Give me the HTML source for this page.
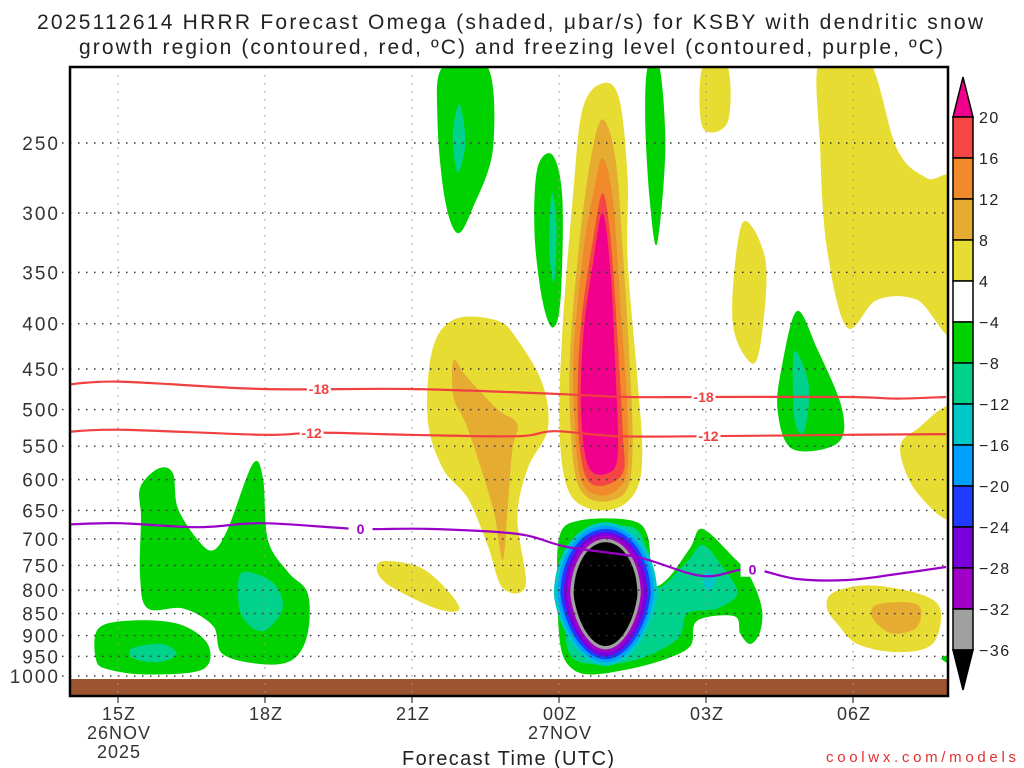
<!DOCTYPE html>
<html><head><meta charset="utf-8"><title>HRRR Omega KSBY</title>
<style>
html,body{margin:0;padding:0;background:#fff;}
svg{display:block;font-family:"Liberation Sans","DejaVu Sans",sans-serif;}
</style></head>
<body>
<svg id="chart" width="1024" height="768" viewBox="0 0 1024 768" xmlns="http://www.w3.org/2000/svg">
<text x="510" y="29" text-anchor="middle" font-size="21" fill="#222" textLength="946" lengthAdjust="spacing">2025112614 HRRR Forecast Omega (shaded, μbar/s) for KSBY with dendritic snow</text>
<text x="511" y="54" text-anchor="middle" font-size="21" fill="#222" textLength="864" lengthAdjust="spacing">growth region (contoured, red, ºC) and freezing level (contoured, purple, ºC)</text>
<defs><clipPath id="plotclip"><rect x="70" y="67" width="878" height="629"/></clipPath></defs>
<g id="fills" clip-path="url(#plotclip)"></g>
<g id="grid"></g>
<g id="lines" clip-path="url(#plotclip)"></g>
<g id="axes"></g>
<g id="cbar"></g>
<text x="508" y="765" text-anchor="middle" font-size="20" fill="#222" textLength="212" lengthAdjust="spacing">Forecast Time (UTC)</text>
<text x="1016" y="762" text-anchor="end" font-size="15" fill="#e03030" textLength="190" lengthAdjust="spacing">coolwx.com/models</text>
</svg>
<script>
// ---- data ----
const pressureTicks=[250,300,350,400,450,500,550,600,650,700,750,800,850,900,950,1000];
const timeTickHours=[0,3,6,9,12,15];
const timeTickLabels=[["15Z","26NOV","2025"],["18Z"],["21Z"],["00Z","27NOV"],["03Z"],["06Z"]];
const cbarLevels=[20,16,12,8,4,-4,-8,-12,-16,-20,-24,-28,-32,-36];
const cbarColors=["#f54545","#f08a2a","#e6ac32","#e6dc32","#ffffff","#00d200","#00d28c","#00c8c8","#00a0ff","#1e3cff","#7800dc","#a000c8","#a0a0a0"];
// isotherms: hours since 15Z, pressure hPa
const isoM18H=[-1.2,0,2.96,5.95,8.91,10.4,11.93,14.9,15.9,16.9];
const isoM18P=[470,465,474,474,480,484,484,484,486,484];
const isoM12H=[-1.2,0,2.96,4.08,5.95,8.15,8.91,10.19,11.93,14.9,16.9];
const isoM12P=[531,527,534,531,534,536,529,536,536,534,533];
const iso0H=[-1.2,0,1.63,2.96,4.89,6.32,8.15,9.17,10.6,11.93,12.88,13.86,14.9,15.9,16.9];
const iso0P=[675,672,679,672,682,682,691,715,734,771,757,777,779,767,753];
// omega regions [hour,pressure] polygons with value class
const regions=[
 ["#00d200",[[6.63,205],[7.54,205],[7.65,254],[7.24,296],[6.93,316],[6.67,289],[6.52,236]]],
 ["#00d28c",[[6.97,226],[7.09,250],[6.93,270],[6.83,245]]],
 ["#00d200",[[8.56,267],[8.87,258],[9.07,289],[9.03,376],[8.87,404],[8.66,376],[8.5,316]]],
 ["#00d28c",[[8.85,285],[8.95,310],[8.9,360],[8.8,330]]],
 ["#00d200",[[10.81,205],[11.05,205],[11.17,254],[11.0,325],[10.85,289],[10.76,236]]],
 ["#e6dc32",[[11.93,205],[12.44,205],[12.44,237],[11.93,240]]],
 ["#e6dc32",[[12.74,308],[13.21,338],[13.15,407],[12.95,444],[12.54,397]]],
 ["#e6dc32",[[14.33,200],[15.29,200],[15.9,254],[16.51,274],[17.1,280],[17.1,410],[16.31,376],[15.49,376],[14.88,404],[14.47,329],[14.33,254]]],
 ["#e6dc32",[[9.89,214],[10.23,223],[10.4,274],[10.4,338],[10.6,461],[10.7,554],[10.6,613],[10.19,646],[9.58,646],[9.17,613],[9.01,526],[9.07,407],[9.28,289],[9.48,229]]],
 ["#e6ac32",[[9.89,235],[10.15,260],[10.3,330],[10.45,450],[10.5,560],[10.35,620],[9.8,635],[9.4,610],[9.25,540],[9.22,440],[9.4,330],[9.65,260]]],
 ["#f08a2a",[[9.89,260],[10.1,290],[10.25,380],[10.38,480],[10.4,580],[10.2,615],[9.8,625],[9.45,600],[9.32,520],[9.3,430],[9.5,330],[9.7,285]]],
 ["#f54545",[[9.89,285],[10.05,320],[10.2,420],[10.3,530],[10.3,590],[9.8,610],[9.5,585],[9.38,500],[9.45,400],[9.7,320]]],
 ["#f0008c",[[9.89,300],[10.05,350],[10.15,450],[10.2,560],[10.0,590],[9.6,580],[9.45,500],[9.5,410],[9.7,340]]],
 ["#e6dc32",[[6.89,395],[7.75,397],[8.15,417],[8.66,467],[8.77,526],[8.36,583],[8.15,663],[8.32,790],[7.85,795],[7.54,711],[7.14,630],[6.63,583],[6.32,513],[6.42,427]]],
 ["#e6ac32",[[6.85,440],[7.14,461],[7.75,500],[8.15,519],[8.05,554],[7.95,646],[7.85,740],[7.65,646],[7.14,526],[6.85,485]]],
 ["#e6dc32",[[5.4,742],[6.12,752],[6.63,790],[6.97,840],[6.52,840],[5.61,795],[5.3,765]]],
 ["#e6dc32",[[14.58,806],[15.29,790],[16.31,806],[16.78,840],[16.62,920],[15.9,940],[15.09,920],[14.68,873],[14.47,839]]],
 ["#e6ac32",[[15.5,830],[16.31,830],[16.31,880],[15.8,895],[15.4,860]]],
 ["#e6dc32",[[17.1,500],[17.1,660],[16.31,621],[15.96,554],[16.31,526]]],
 ["#00d200",[[13.86,387],[14.27,427],[14.78,500],[14.68,546],[13.76,554],[13.46,500],[13.56,444]]],
 ["#00d28c",[[13.8,430],[14.1,470],[14.0,530],[13.8,510]]],
 ["#00d200",[[0.45,613],[0.82,583],[1.12,590],[1.22,646],[1.63,702],[1.94,721],[2.24,682],[2.75,576],[2.96,598],[3.06,702],[3.47,763],[3.87,806],[3.87,896],[3.57,958],[2.96,970],[2.14,945],[1.94,878],[1.33,839],[0.61,839],[0.45,773],[0.47,663]]],
 ["#00d28c",[[2.55,763],[3.16,784],[3.36,839],[2.96,890],[2.55,860],[2.45,806]]],
 ["#00d200",[[-0.41,885],[0.2,866],[1.22,873],[1.83,920],[1.73,983],[0.61,996],[-0.2,983],[-0.45,958]]],
 ["#00d28c",[[0.3,930],[0.9,920],[1.2,945],[0.82,965],[0.3,955]]],
 ["#00d200",[[9.01,695],[9.44,667],[10.46,667],[10.81,695],[10.91,784],[11.21,777],[11.68,716],[11.93,682],[12.58,736],[12.84,763],[13.05,806],[13.15,850],[13.09,896],[12.9,920],[12.7,896],[12.58,856],[11.82,866],[11.68,925],[11.15,958],[10.4,983],[9.64,996],[9.24,978],[9.03,925],[8.97,812]]],
 ["#00d28c",[[9.17,711],[10.4,677],[10.81,721],[11.0,795],[11.62,742],[11.93,711],[12.33,752],[12.64,806],[12.23,839],[11.62,850],[11.42,908],[10.6,958],[9.69,970],[9.2,940],[9.13,828]]],
 ["#00c8c8",[[12.0,760],[12.2,775],[12.1,800],[11.95,790]]],
 ["#00d200",[[16.8,955],[17.1,945],[17.1,975]]]
];
// strong downward core: hour and pressure extent of the black region
const coreHour=[9.3,10.6];
const corePres=[706,925];
const coreColors=["#00c8c8","#00a0ff","#1e3cff","#7800dc","#a000c8","#a0a0a0","#000000"];
// ---- axes ----
const X0=70,X1=948,Y0=67,Y1=696;
function xs(h){return 118+49*h;}
function ys(p){return 143+384.5*(Math.log(p)-Math.log(250));}
const NS="http://www.w3.org/2000/svg";
function mk(tag,attrs,parent){const e=document.createElementNS(NS,tag);for(const k in attrs)e.setAttribute(k,attrs[k]);parent.appendChild(e);return e;}
function smoothPath(pts,closed){
 const n=pts.length;let d="M"+pts[0][0].toFixed(1)+","+pts[0][1].toFixed(1);
 const m=closed?n:n-1;
 for(let i=0;i<m;i++){
  const p0=pts[(i-1+n)%n],p1=pts[i],p2=pts[(i+1)%n],p3=pts[(i+2)%n];
  const a=closed||i>0?p0:p1,b=closed||i+2<n?p3:p2;
  const c1=[p1[0]+(p2[0]-a[0])/6,p1[1]+(p2[1]-a[1])/6],c2=[p2[0]-(b[0]-p1[0])/6,p2[1]-(b[1]-p1[1])/6];
  d+="C"+c1[0].toFixed(1)+","+c1[1].toFixed(1)+" "+c2[0].toFixed(1)+","+c2[1].toFixed(1)+" "+p2[0].toFixed(1)+","+p2[1].toFixed(1);
 }
 return d+(closed?"Z":"");
}
const fills=document.getElementById('fills');
regions.forEach(r=>{
 const pts=r[1].map(q=>[xs(q[0]),ys(q[1])]);
 const e=mk('path',{d:smoothPath(pts,true),fill:r[0]},fills);
 
 
});
// core rings
(function(){
 const cx=(xs(coreHour[0])+xs(coreHour[1]))/2, rx=(xs(coreHour[1])-xs(coreHour[0]))/2;
 const top=ys(corePres[0]),bot=ys(corePres[1]);
 const cy=(top+bot)/2, ry=(bot-top)/2;
 const nC=coreColors.length;
 coreColors.forEach((c,i)=>{
  const off=(nC-1-i)*3.3;
  const R=rx+off,RY=ry+off;
  const pts=[];for(let k=0;k<36;k++){const t=k/36*2*Math.PI;const s=Math.sin(t);const w=R*(1-0.15*Math.max(0,-Math.cos(t)));pts.push([cx+w*s,cy-RY*Math.cos(t)]);}
  const e=mk('path',{d:smoothPath(pts,true),fill:c},fills);
  
  
 });
})();
// ground
const g0=mk('rect',{x:X0,y:679,width:X1-X0,height:Y1-679,fill:"#9c5530"},fills);


// grid
const grid=document.getElementById('grid');
pressureTicks.forEach(p=>{
 const y=ys(p);
 const l=mk('line',{x1:62,x2:X1,y1:y,y2:y,stroke:"#333","stroke-width":1.4,"stroke-dasharray":"1.5,6.5"},grid);
 
 
 const t=mk('text',{x:60,y:y+7,"text-anchor":"end","font-size":19,fill:"#333","letter-spacing":"2"},grid);t.textContent=p;
 
 
});
timeTickHours.forEach((h,i)=>{
 const x=xs(h);
 const l=mk('line',{x1:x,x2:x,y1:Y0,y2:Y1,stroke:"#999","stroke-width":1.2,"stroke-dasharray":"1.5,6.5"},grid);
 
 
 mk('line',{x1:x,x2:x,y1:Y1,y2:Y1+7,stroke:"#333","stroke-width":1.2},grid);
 timeTickLabels[i].forEach((s,j)=>{
  const t=mk('text',{x:x+1,y:720+j*19,"text-anchor":"middle","font-size":18,fill:"#333","letter-spacing":"1"},grid);t.textContent=s;
  
  
 });
});
// isotherm lines
const lines=document.getElementById('lines');
function drawIso(H,P,color,name,labels){
 const pts=H.map((h,i)=>[xs(h),ys(P[i])]);
 const e=mk('path',{d:smoothPath(pts,false),fill:"none",stroke:color,"stroke-width":2.2},lines);
 
 
 labels.forEach(L=>{
  let y=pts[0][1];for(let i=0;i<H.length-1;i++){if(L[0]>=H[i]&&L[0]<=H[i+1]){const f=(L[0]-H[i])/(H[i+1]-H[i]);y=pts[i][1]+f*(pts[i+1][1]-pts[i][1]);}}
  const x=xs(L[0]);
  mk('rect',{x:x-12,y:y-7,width:24,height:14,fill:"#fff"},lines);
  const t=mk('text',{x:x,y:y+5,"text-anchor":"middle","font-size":14,"font-weight":"bold",fill:color},lines);t.textContent=L[1];
  
  
 });
}
drawIso(isoM18H,isoM18P,"#f04040","isotherm-minus18",[[4.1,"-18"],[11.95,"-18"]]);
drawIso(isoM12H,isoM12P,"#f04040","isotherm-minus12",[[3.95,"-12"],[12.05,"-12"]]);
drawIso(iso0H,iso0P,"#9a00c8","freezing-level",[[4.95,"0"],[12.95,"0"]]);
// frame
const axes=document.getElementById('axes');
const fr=mk('rect',{x:X0,y:Y0,width:X1-X0,height:Y1-Y0,fill:"none",stroke:"#000","stroke-width":2.5},axes);


// colorbar
const cb=document.getElementById('cbar');
const cbx=953,cbw=20,cbTop=117,cbStep=41;
const tri1=mk('path',{d:`M${cbx},${cbTop} L${cbx+cbw/2},77 L${cbx+cbw},${cbTop} Z`,fill:"#f0008c",stroke:"#000","stroke-width":1.5},cb);


cbarColors.forEach((c,i)=>{
 const r=mk('rect',{x:cbx,y:cbTop+i*cbStep,width:cbw,height:cbStep,fill:c,stroke:"#000","stroke-width":1.5},cb);
 
 
});
const bY=cbTop+cbarColors.length*cbStep;
const tri2=mk('path',{d:`M${cbx},${bY} L${cbx+cbw/2},690 L${cbx+cbw},${bY} Z`,fill:"#000",stroke:"#000","stroke-width":1.5},cb);


cbarLevels.forEach((v,i)=>{
 const t=mk('text',{x:979,y:cbTop+i*cbStep+6,"font-size":16,fill:"#222","letter-spacing":"1.5"},cb);
 t.textContent=v<0?"−"+(-v):String(v);
 
 
});
</script>
</body></html>
